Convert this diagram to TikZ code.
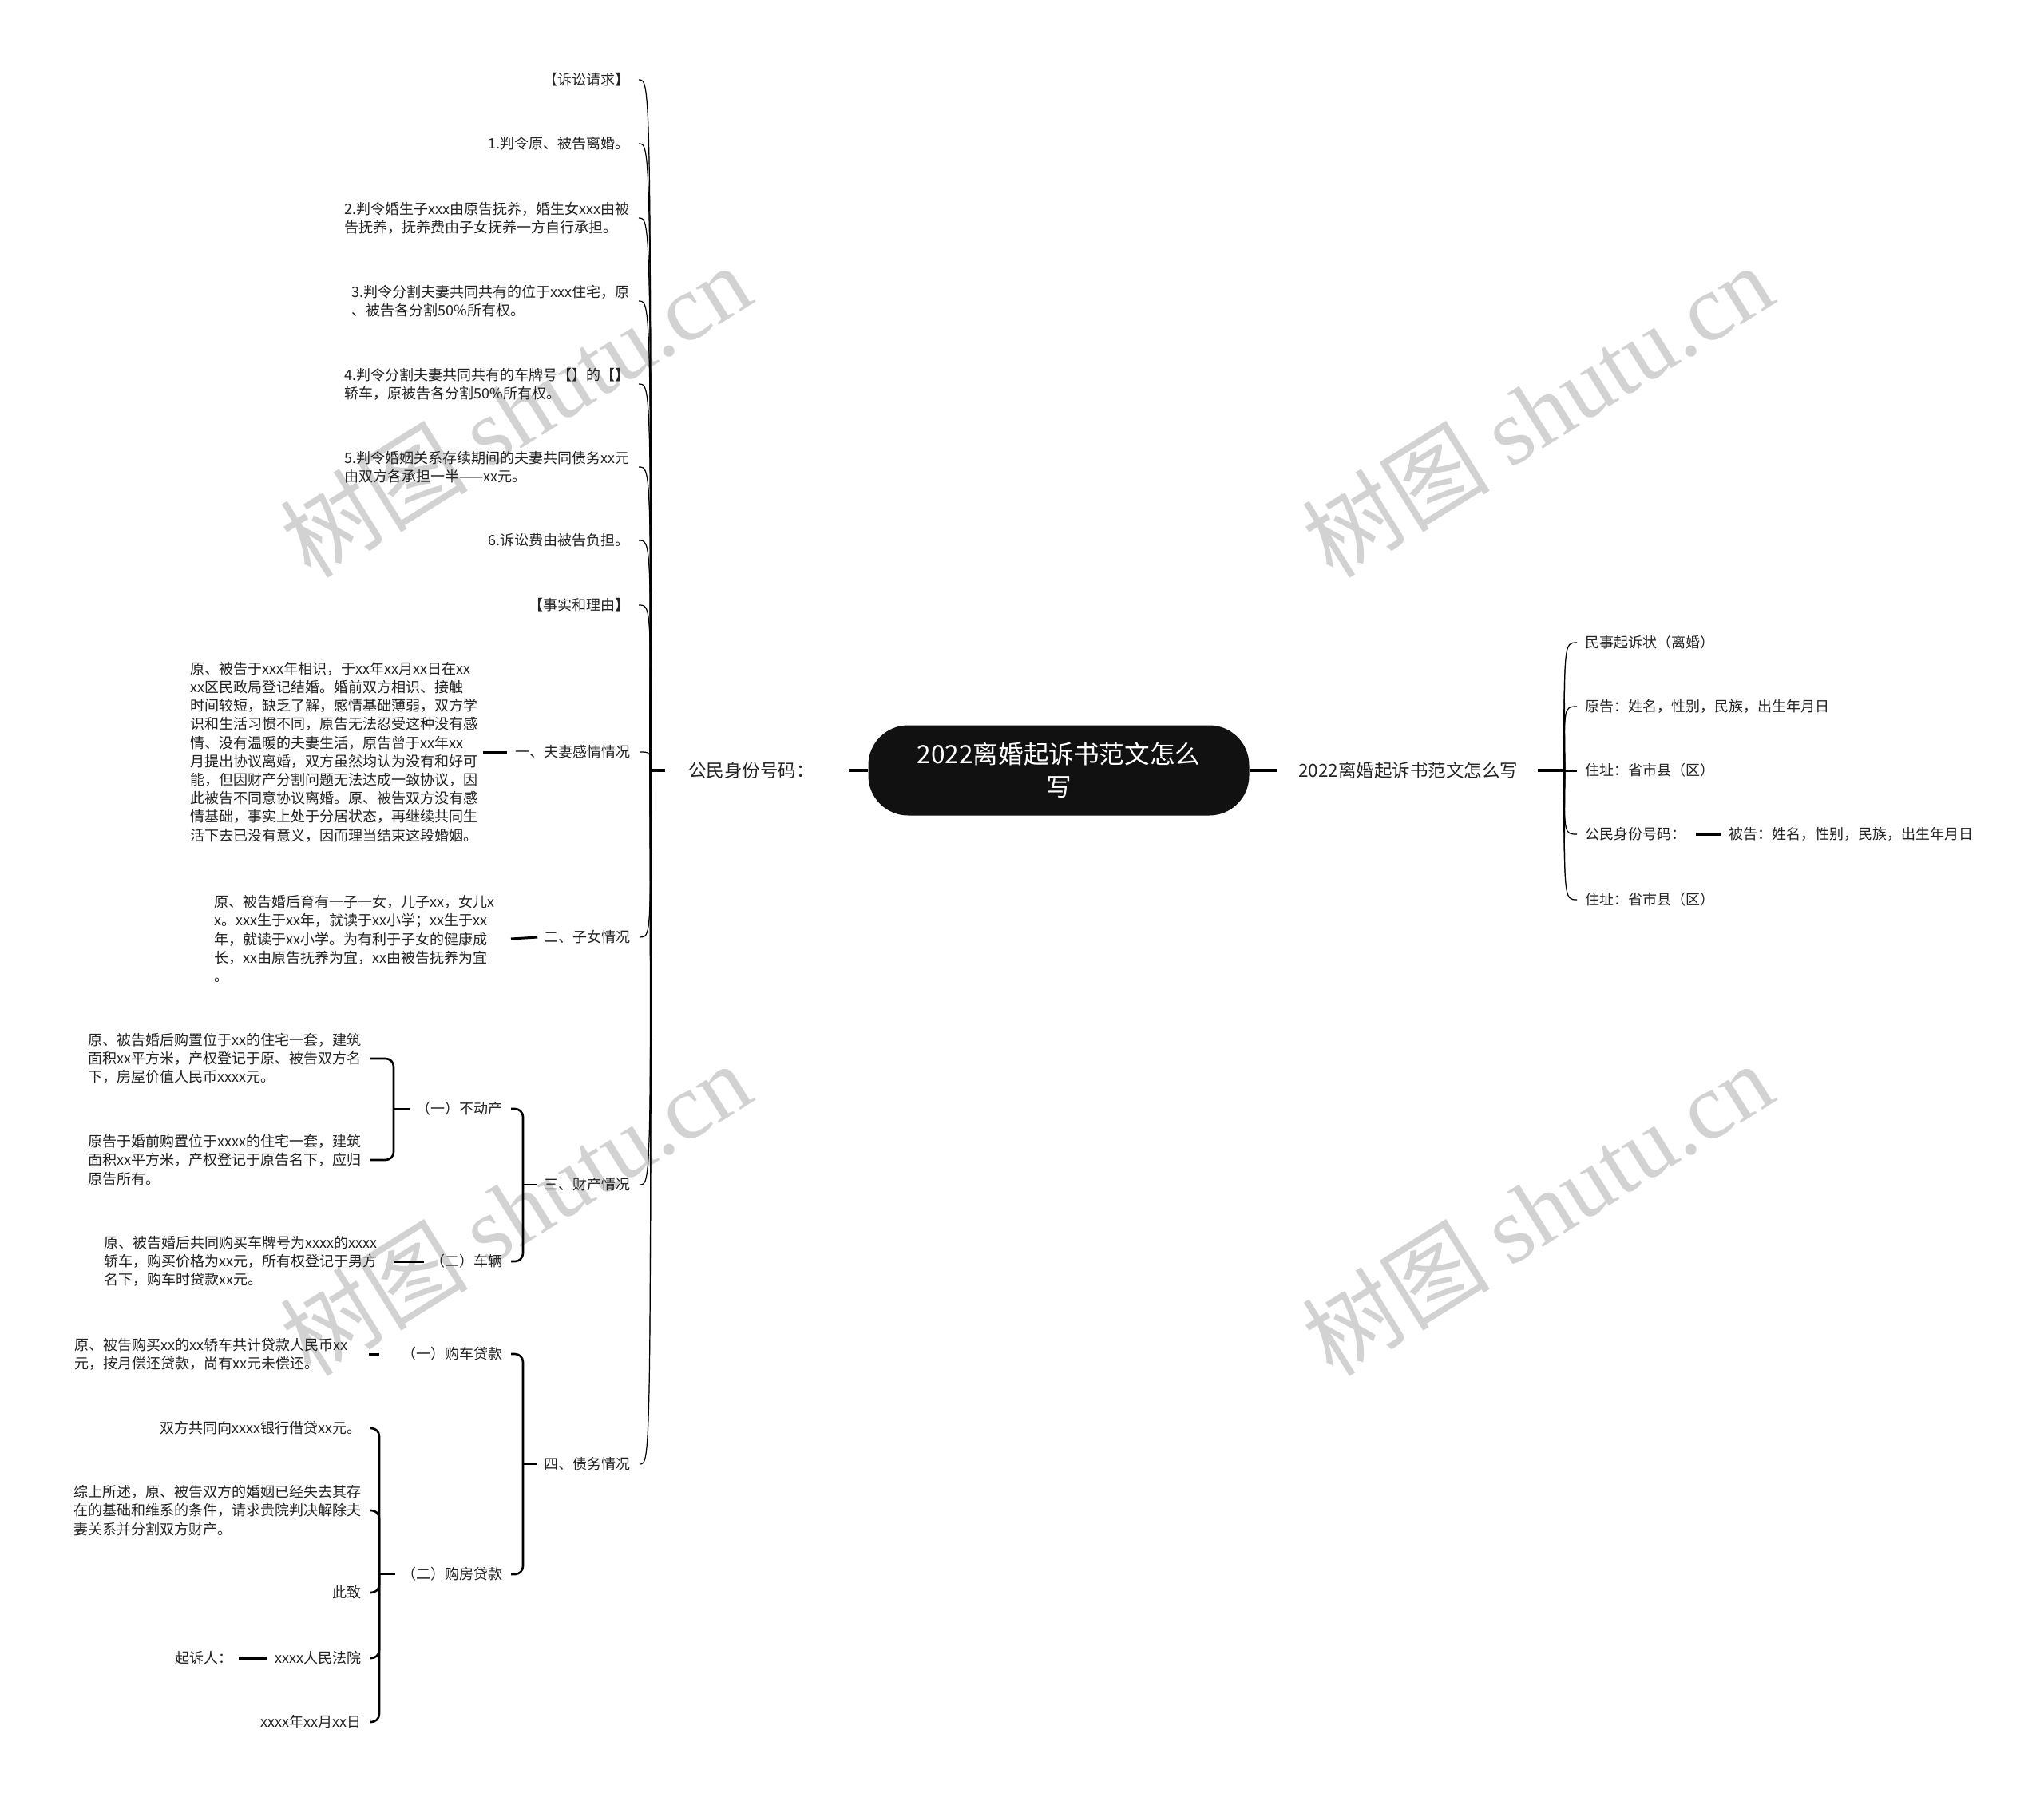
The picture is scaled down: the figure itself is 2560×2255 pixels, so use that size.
\documentclass[tikz,border=0pt]{standalone}
\usepackage{fontspec}
\newfontfamily\cjk{Noto Sans CJK SC}
\newfontfamily\wmserif{Liberation Serif}
\definecolor{wmgray}{RGB}{210,210,210}
\definecolor{rootfill}{RGB}{17,17,17}
\definecolor{txtc}{RGB}{34,34,34}
\newcommand\leftbranch[1]{%
  \fill[black] (LTa) .. controls (LT |- #1) .. (#1) .. controls (LT |- #1) .. (LTb) -- cycle;
  \draw[line width=0.6pt] (LT) .. controls (LT |- #1) .. (#1);}
\newcommand\rightbranch[1]{%
  \fill[black] (RTa) .. controls (RT |- #1) .. (#1) .. controls (RT |- #1) .. (RTb) -- cycle;
  \draw[line width=0.6pt] (RT) .. controls (RT |- #1) .. (#1);}
\begin{document}
\begin{tikzpicture}[x=0.5pt,y=-0.5pt,
  txt/.style={font=\cjk\fontsize{9}{11.6}\selectfont, inner sep=0pt, align=left, text=txtc},
  lvl/.style={font=\cjk\fontsize{11.25}{14}\selectfont, inner sep=0pt, text=txtc},
  rootbox/.style={fill=rootfill, text=white, rounded corners=25pt, minimum width=238.5pt, minimum height=56.5pt, inner sep=0pt, align=center, font=\cjk\fontsize{15.8}{20.5}\selectfont},
  br/.style={line width=1.3pt, rounded corners=5pt},
  stub/.style={line width=1.5pt},
  rootline/.style={line width=1.75pt},
  wm/.style={text=wmgray, rotate=32, inner sep=0pt, font=\cjk\fontsize{59}{59}\selectfont}]
\useasboundingbox (0,0) rectangle (2560,2255);
\fill[white] (0,0) rectangle (2560,2255);

% watermarks
\node[wm] (w1) at (645,514) {树图 {\wmserif shutu.cn}};
\node[wm] (w2) at (1925,514) {树图 {\wmserif shutu.cn}};
\node[wm] (w3) at (645,1514) {树图 {\wmserif shutu.cn}};
\node[wm] (w4) at (1925,1514) {树图 {\wmserif shutu.cn}};

% root and level 1
\node[rootbox] (root) at (1326,965) {2022离婚起诉书范文怎么\\写};
\node[lvl,anchor=west] (idL) at (862,965) {公民身份号码：};
\node[lvl,anchor=west] (idR) at (1626,965) {2022离婚起诉书范文怎么写};
\draw[rootline] (root.west) -- ([xshift=21.5pt]idL.east);
\draw[rootline] (root.east) -- ([xshift=-13pt]idR.west);

% left trunk
\coordinate (LT) at (815,965);
\coordinate (LTa) at (813.3,965);
\coordinate (LTb) at (816.7,965);
\draw[rootline] ([xshift=-14.5pt]idL.west) -- (LT);

\node[txt,anchor=east] (c1) at (789,100) {【诉讼请求】};
\node[txt,anchor=east] (c2) at (789,180) {1.判令原、被告离婚。};
\node[txt,anchor=east] (c3) at (789,273) {2.判令婚生子xxx由原告抚养，婚生女xxx由被\\告抚养，抚养费由子女抚养一方自行承担。};
\node[txt,anchor=east] (c4) at (789,377) {3.判令分割夫妻共同共有的位于xxx住宅，原\\、被告各分割50\%所有权。};
\node[txt,anchor=east] (c5) at (789,481) {4.判令分割夫妻共同共有的车牌号【】的【】\\轿车，原被告各分割50\%所有权。};
\node[txt,anchor=east] (c6) at (789,585) {5.判令婚姻关系存续期间的夫妻共同债务xx元\\由双方各承担一半——xx元。};
\node[txt,anchor=east] (c7) at (789,677) {6.诉讼费由被告负担。};
\node[txt,anchor=east] (c8) at (789,758) {【事实和理由】};
\node[txt,anchor=east] (c9) at (790,942) {一、夫妻感情情况};
\node[txt,anchor=east] (c10) at (790,1174) {二、子女情况};
\node[txt,anchor=east] (c11) at (790,1484) {三、财产情况};
\node[txt,anchor=east] (c12) at (790,1834) {四、债务情况};

\foreach \i in {1,...,12} {\coordinate (e\i) at ([xshift=5.5pt]c\i.east);}
\foreach \i in {1,...,12} {\leftbranch{e\i}}

% 一、夫妻感情情况
\node[txt,anchor=east] (c9a) at (599,942) {原、被告于xxx年相识，于xx年xx月xx日在xx\\xx区民政局登记结婚。婚前双方相识、接触\\时间较短，缺乏了解，感情基础薄弱，双方学\\识和生活习惯不同，原告无法忍受这种没有感\\情、没有温暖的夫妻生活，原告曾于xx年xx\\月提出协议离婚，双方虽然均认为没有和好可\\能，但因财产分割问题无法达成一致协议，因\\此被告不同意协议离婚。原、被告双方没有感\\情基础，事实上处于分居状态，再继续共同生\\活下去已没有意义，因而理当结束这段婚姻。};
\draw[stub] ([xshift=-5pt]c9.west) -- ([xshift=3pt]c9a.east);

% 二、子女情况
\node[txt,anchor=east] (c10a) at (620,1176) {原、被告婚后育有一子一女，儿子xx，女儿x\\x。xxx生于xx年，就读于xx小学；xx生于xx\\年，就读于xx小学。为有利于子女的健康成\\长，xx由原告抚养为宜，xx由被告抚养为宜\\。};
\draw[stub] ([xshift=-4pt]c10.west) -- ([xshift=10pt]c10a.east);

% 三、财产情况
\coordinate (B3) at (655,1484);
\draw[br] ([xshift=-4pt]c11.west) -- (B3);
\node[txt,anchor=east] (bd) at (630,1389) {（一）不动产};
\node[txt,anchor=east] (cl) at (630,1580) {（二）车辆};
\draw[br] (B3) |- ([xshift=5pt]bd.east);
\draw[br] (B3) |- ([xshift=5pt]cl.east);

\coordinate (Bbd) at (493,1389);
\draw[br] ([xshift=-4pt]bd.west) -- (Bbd);
\node[txt,anchor=east] (bd1) at (453,1326) {原、被告婚后购置位于xx的住宅一套，建筑\\面积xx平方米，产权登记于原、被告双方名\\下，房屋价值人民币xxxx元。};
\node[txt,anchor=east] (bd2) at (453,1453) {原告于婚前购置位于xxxx的住宅一套，建筑\\面积xx平方米，产权登记于原告名下，应归\\原告所有。};
\draw[br] (Bbd) |- ([xshift=5pt]bd1.east);
\draw[br] (Bbd) |- ([xshift=5pt]bd2.east);

\node[txt,anchor=east] (cl1) at (473,1580) {原、被告婚后共同购买车牌号为xxxx的xxxx\\轿车，购买价格为xx元，所有权登记于男方\\名下，购车时贷款xx元。};
\draw[stub] ([xshift=10pt]cl1.east) -- ([xshift=-4pt]cl.west);

% 四、债务情况
\coordinate (B4) at (655,1834);
\draw[br] ([xshift=-4pt]c12.west) -- (B4);
\node[txt,anchor=east] (cd) at (630,1696) {（一）购车贷款};
\node[txt,anchor=east] (fd) at (630,1972) {（二）购房贷款};
\draw[br] (B4) |- ([xshift=5pt]cd.east);
\draw[br] (B4) |- ([xshift=5pt]fd.east);

\node[txt,anchor=east] (cd1) at (436,1696) {原、被告购买xx的xx轿车共计贷款人民币xx\\元，按月偿还贷款，尚有xx元未偿还。};
\draw[stub] ([xshift=13pt]cd1.east) -- ([xshift=-14pt]cd.west);

\coordinate (Bfd) at (475,1972);
\draw[br] ([xshift=-4pt]fd.west) -- (Bfd);
\node[txt,anchor=east] (fd1) at (453,1789) {双方共同向xxxx银行借贷xx元。};
\node[txt,anchor=east] (fd2) at (453,1892) {综上所述，原、被告双方的婚姻已经失去其存\\在的基础和维系的条件，请求贵院判决解除夫\\妻关系并分割双方财产。};
\node[txt,anchor=east] (fd3) at (453,1995) {此致};
\node[txt,anchor=east] (fd4) at (453,2077) {xxxx人民法院};
\node[txt,anchor=east] (fd5) at (453,2157) {xxxx年xx月xx日};
\foreach \i in {1,...,5} {\draw[br] (Bfd) |- ([xshift=5pt]fd\i.east);}
\node[txt,anchor=east] (fd4a) at (292,2077) {起诉人：};
\draw[stub] ([xshift=3.5pt]fd4a.east) -- ([xshift=-5pt]fd4.west);

% right side
\coordinate (RT) at (1959,965);
\coordinate (RTa) at (1957.3,965);
\coordinate (RTb) at (1960.7,965);
\draw[rootline] ([xshift=12pt]idR.east) -- (RT);
\node[txt,anchor=west] (r1) at (1985,805) {民事起诉状（离婚）};
\node[txt,anchor=west] (r2) at (1985,885) {原告：姓名，性别，民族，出生年月日};
\node[txt,anchor=west] (r3) at (1985,965) {住址：省市县（区）};
\node[txt,anchor=west] (r4) at (1985,1045) {公民身份号码：};
\node[txt,anchor=west] (r5) at (1985,1127) {住址：省市县（区）};
\node[txt,anchor=west] (r4a) at (2165,1045) {被告：姓名，性别，民族，出生年月日};
\foreach \i in {1,...,5} {\coordinate (f\i) at ([xshift=-5pt]r\i.west);}
\rightbranch{f1}
\rightbranch{f2}
\draw[line width=1.5pt] (RT) -- (f3);
\rightbranch{f4}
\rightbranch{f5}
\draw[stub] ([xshift=6pt]r4.east) -- ([xshift=-5pt]r4a.west);
\end{tikzpicture}
\end{document}
